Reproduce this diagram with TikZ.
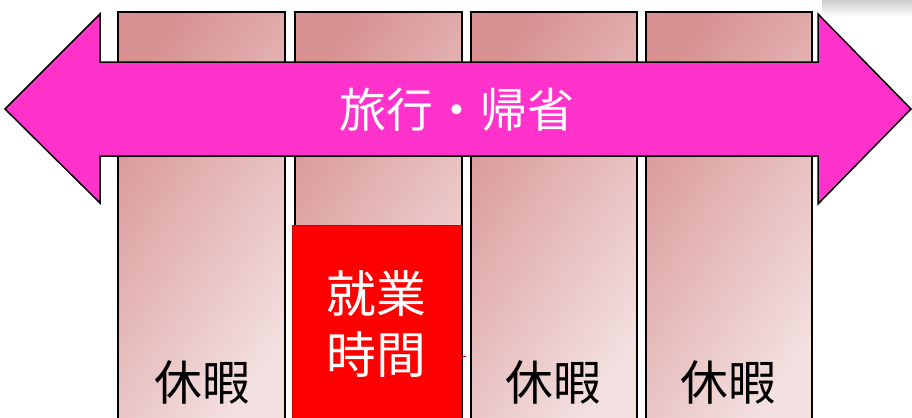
\documentclass[tikz,border=0pt]{standalone}
\usepackage{fontspec}
\newfontfamily\jp{Noto Sans CJK JP}
\definecolor{arrowpink}{RGB}{255,51,204}
\definecolor{coldark}{RGB}{216,146,146}
\definecolor{collight}{RGB}{243,224,224}
\definecolor{redbox}{RGB}{255,0,0}
\definecolor{redline}{RGB}{200,0,0}
\tikzset{
  colbox/.style={draw=black, line width=1.6bp, shading=axis, top color=coldark, bottom color=collight, shading angle=55, minimum width=167bp, minimum height=420bp, anchor=north west, inner sep=0pt},
  bigarrow/.style={draw=black, line width=1.5bp, fill=arrowpink, line join=miter},
  worktext/.style={text=white, font=\jp\fontsize{50}{62}\selectfont, align=center, inner sep=0pt},
  resttext/.style={text=black, font=\jp\fontsize{48}{50}\selectfont, inner sep=0pt},
  arrowtext/.style={text=white, font=\jp\fontsize{47}{50}\selectfont, inner sep=0pt}
}
\begin{document}
\begin{tikzpicture}[x=1bp, y=-1bp]
\useasboundingbox (0,0) rectangle (912,417);
\clip (0,0) rectangle (912,417);
\fill[white] (0,0) rectangle (912,417);
% faint gray element top right
\shade[top color=gray!45, bottom color=white] (822,-2) rectangle (912,16);
% columns
\node[colbox] (c1) at (117,11) {};
\node[colbox] (c2) at (294,11) {};
\node[colbox, minimum width=166bp] (c3) at (470,11) {};
\node[colbox, minimum width=166bp] (c4) at (645,11) {};
% red working-hours box
\node[fill=redbox, draw=redline, line width=0.8bp, minimum width=169bp, minimum height=200bp, anchor=north west, inner sep=0pt] (work) at (292,225) {};
\draw[redline, line width=1bp] (461,356) -- (466,356);
\node[worktext] (worklabel) at (376,324) {就業\\時間};
% rest labels
\node[resttext] (r1) at (202,382) {休暇};
\node[resttext] (r3) at (553,382) {休暇};
\node[resttext] (r4) at (728,382) {休暇};
% double arrow
\draw[bigarrow] (5,109) -- (100,14) -- (100,62) -- (818,62) -- (818,14) -- (911,109) -- (818,204) -- (818,156) -- (100,156) -- (100,203) -- cycle;
\node[arrowtext] (travel) at (457,110) {旅行・帰省};
\end{tikzpicture}
\end{document}
